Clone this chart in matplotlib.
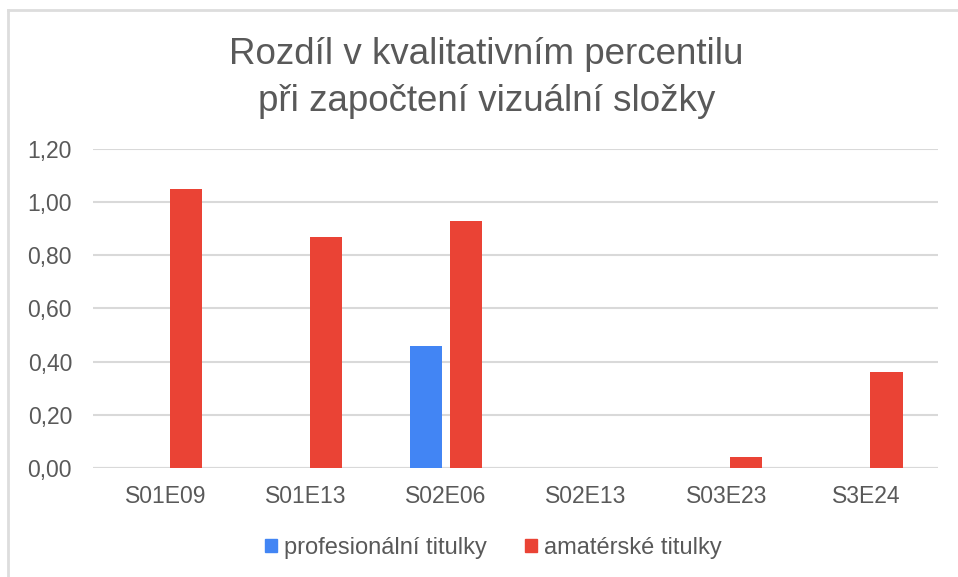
import matplotlib
matplotlib.use("Agg")
import matplotlib.pyplot as plt
from matplotlib.lines import Line2D
from matplotlib.patches import Patch
import numpy as np

plt.rcParams['font.family'] = ['Liberation Sans', 'DejaVu Sans']

categories = ["S01E09", "S01E13", "S02E06", "S02E13", "S03E23", "S3E24"]
profesionalni = [0.0, 0.0, 0.46, 0.0, 0.0, 0.0]
amaterske = [1.05, 0.87, 0.93, 0.0, 0.04, 0.36]
series_names = ["profesionální titulky", "amatérské titulky"]
title_lines = ["Rozdíl v kvalitativním percentilu", "při započtení vizuální složky"]
yticks = [0.0, 0.2, 0.4, 0.6, 0.8, 1.0, 1.2]

BLUE = "#4285F4"
RED = "#EA4335"
TEXT = "#595959"
GRID = "#D9D9D9"

fig = plt.figure(figsize=(9.58, 5.77), dpi=100)
ax = fig.add_axes([0.097, 0.189, 0.882, 0.553])

x = np.arange(len(categories))
w = 0.229
off = 0.143
ax.bar(x - off, profesionalni, width=w, color=BLUE, zorder=3)
ax.bar(x + off, amaterske, width=w, color=RED, zorder=3)

ax.set_xlim(-0.52, 5.51)
ax.set_ylim(0, 1.2)
ax.set_yticks(yticks)
ax.set_yticklabels([f"{v:.2f}".replace(".", ",") for v in yticks])
ax.set_xticks(x)
ax.set_xticklabels(categories)
ax.tick_params(axis='y', length=0, pad=15, labelsize=16.5, labelcolor=TEXT)
ax.tick_params(axis='x', length=0, pad=12, labelsize=16.5, labelcolor=TEXT)
ax.grid(axis='y', color=GRID, linewidth=1.5, zorder=0)
for s in ax.spines.values():
    s.set_visible(False)
ax.axhline(0, color=GRID, linewidth=1.5, zorder=2)

fig.text(0.508, 1 - 64 / 577, title_lines[0], ha='center', va='baseline',
         fontsize=26.5, color=TEXT)
fig.text(0.508, 1 - 111 / 577, title_lines[1], ha='center', va='baseline',
         fontsize=26.5, color=TEXT)

handles = [Patch(color=BLUE), Patch(color=RED)]
fig.legend(handles, series_names, loc='center', bbox_to_anchor=(0.515, 1 - 548 / 577),
           ncol=2, frameon=False, fontsize=17, labelcolor=TEXT,
           handlelength=0.5, handleheight=0.5, handletextpad=0.3,
           columnspacing=1.6)

# chart border (top and left)
fig.add_artist(Line2D([8 / 958, 1], [1 - 10 / 577, 1 - 10 / 577], transform=fig.transFigure,
                      color="#DDDDDD", linewidth=2))
fig.add_artist(Line2D([8 / 958, 8 / 958], [0, 1 - 10 / 577], transform=fig.transFigure,
                      color="#DDDDDD", linewidth=2))

fig.savefig("out.png", dpi=100)
